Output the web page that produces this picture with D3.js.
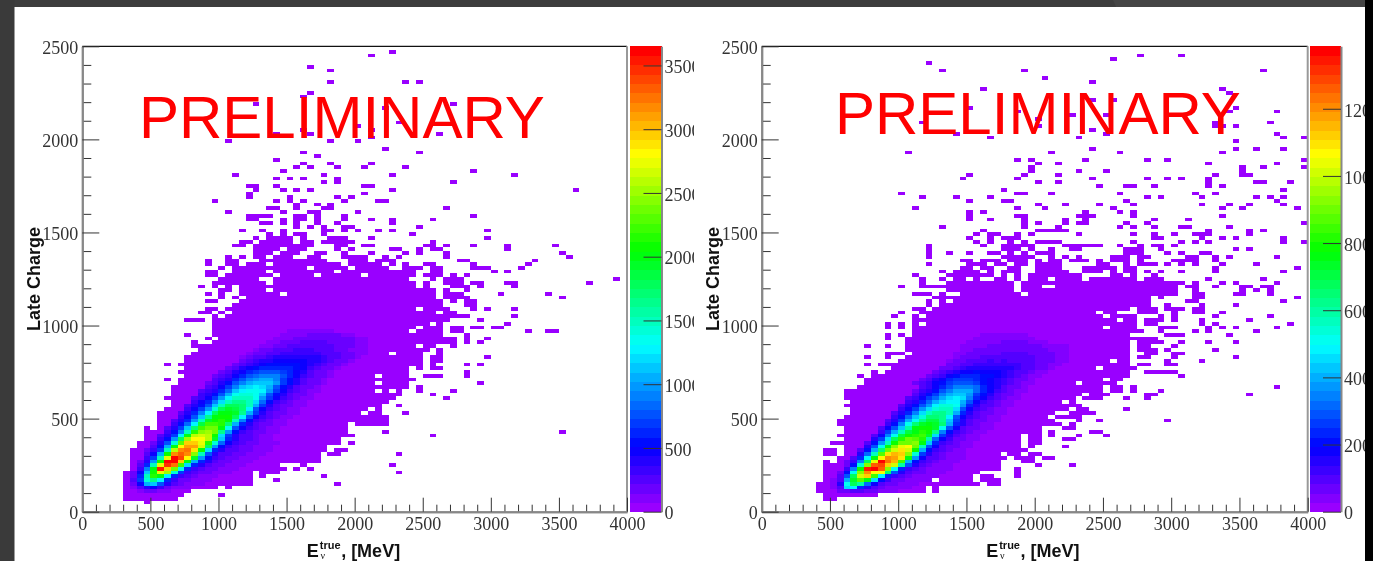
<!DOCTYPE html>
<html>
<head>
<meta charset="utf-8">
<script src="https://cdn.jsdelivr.net/npm/d3@7"></script>
<style>
  html, body { margin: 0; padding: 0; background: #fff; overflow: hidden; }
  svg { display: block; filter: blur(0.4px); }
  .tickText text { font-family: "Liberation Serif", serif; font-size: 18px; fill: #333; }
  .title { font-family: "Liberation Sans", sans-serif; font-weight: bold; font-size: 18px; fill: #111; }
  .prelim { font-family: "Liberation Sans", sans-serif; font-size: 60px; fill: #ff0000; }
</style>
</head>
<body>
<svg id="chart" width="1373" height="561"></svg>
<script>
// bins are 50 MeV wide and 20 charge units tall, rows are [chargeBin, "energy bins"]
var energyBin = 50, chargeBin = 20;
var energyMajor = [0, 500, 1000, 1500, 2000, 2500, 3000, 3500, 4000];
var chargeMajor = [0, 500, 1000, 1500, 2000, 2500];
var leftZMax = 3650, rightZMax = 1386;
var leftZTicks = [0, 500, 1000, 1500, 2000, 2500, 3000, 3500];
var rightZTicks = [0, 200, 400, 600, 800, 1000, 1200];

var leftRows = [
  [2, "9"], [3, "6-13"], [4, "6-14 20"], [5, "6-15"], [6, "6-19 21"], [7, "6-24 37"], [8, "6-24 28"],
  [9, "6-24 26 35"], [10, "6-24 26-28 46"], [11, "7-29 31 33"], [12, "7-28 32 45"], [13, "7-34"], [14, "7-34"],
  [15, "7-34 36-37 46"], [16, "7-35 37-38"], [17, "8-35"], [18, "8-37 39"], [19, "9-37"], [20, "9-39 51"],
  [21, "9-38 44 70"], [22, "9 11-38"], [23, "11-38 40-44"], [24, "11-44"], [25, "11-44"], [26, "11-40 42-43 47"],
  [27, "12-41 43"], [28, "13-43 46"], [29, "13-44"], [30, "12-45 53"], [31, "13-46 51"],
  [32, "13-42 44 46 49 54"], [33, "13-47 49"], [34, "14-42 44-47 58"], [35, "12 14-48"],
  [36, "15-42 44-47 50-52 56"], [37, "14-47 56"], [38, "15-47 49 51-52"], [39, "12 14-49 51 56 58"],
  [40, "15-49 51-52"], [41, "15-49 51-52 59"], [42, "16-44 46-49 52"], [43, "17-50 52"], [44, "16-48 50-51 54"],
  [45, "16 19-52 53-54 56 58"], [46, "18 20-52 53-54 56 59"], [47, "15 19-52 56"],
  [48, "19-47 49-52 54-55 65 68-69"], [49, "19-48 50-52 54-55 57-58 60-61"], [50, "19-50 52 62"],
  [51, "15-17 19-53 58"], [52, "19 21-54 55-56 63"], [53, "17-18 20 22-51 53-54"],
  [54, "18-19 21-48 50-53 57 59 63"], [55, "22-52 56-57"], [56, "18-19 23-51 52 54 56-57"],
  [57, "20 22 24-51 53-56 70"], [58, "18 20 23-28 30-51 53-55 61 68"], [59, "20-21 23-26 28-51 53 56"],
  [60, "17 19 21 23-48 50 54-56 58 63"], [61, "19-26 28-48 50 53-55 57-58 62-63 74"],
  [62, "20-25 28-46 47 51 53-55 78"], [63, "18-19 21-27 29-33 35-40 42-48 50-52 54 56"],
  [64, "18-19 22-26 28-36 38-48 51-52 60 62"], [65, "20 22-32 34-38 40-44 47-49 51-52 57-59 64"],
  [66, "18 21-22 24-26 28-37 39-43 45 47 50-51 57 65"], [67, "18 21-22 26 27-32 33-35 39-41 43-45 55-56 66"],
  [68, "21 23 25-26 28-30 33-34 38-41 44 46 53 71"], [69, "25-27 29-31 34-35 38 42 47 49 53 70"],
  [70, "25-28 30-31 32 37 39 45-46 49 51-52 62"], [71, "22-23 25-28 29-32 33 37-38 41-42 50-51 53 57 62 69"],
  [72, "23-24 26-28 29-30 32-33 35-39 51"], [73, "25 27-30 32 36-38 42 59"], [74, "27 29 31-32 35 48"],
  [75, "23 26 29 35-36 38 40 43 45 59"], [76, "31 33 35 38-39 49"], [77, "26-27 29 31 34 37 45"],
  [78, "24-25 29 31-32 34 38 42 45 51"], [79, "24-27 31-32 34 38 57"], [80, "21 29 33-34 40"],
  [81, "27-28 31 35-36 53"], [82, "31 34 36"], [83, "19 28 30 32 38 43-44"], [84, "24 30 37 39"], [85, "24 41"],
  [86, "25 29 31 33 45 72"], [87, "24-25 28 41-42"], [88, "35 37 54"], [89, "28 30 32 37"], [90, "22 35 45 63"],
  [91, "29 57"], [92, "31 33 37 41 47"], [93, "32 36 42"], [94, "28"], [95, "34"], [96, "32 49"], [97, "44"],
  [99, "21 36 40"], [100, "42"], [101, "28 33 52"], [102, "32 42"], [103, "40"], [104, "46"], [108, "44"],
  [109, "25 54"], [111, "32"], [112, "33"], [115, "36 47 49"], [118, "36"], [119, "33"], [122, "42"], [123, "45"]
];

// colour band: [chargeBin, first energy bin, levels...]
var leftCore = [
  [5, 8, 1, 2, 2, 1, 1],
  [6, 7, 1, 3, 5, 6, 4, 2, 1, 1, 1],
  [7, 7, 2, 6, 14, 15, 10, 5, 3, 2, 1, 1, 1],
  [8, 7, 3, 9, 19, 22, 17, 8, 4, 2, 2, 1, 1, 1],
  [9, 7, 2, 8, 20, 29, 27, 17, 8, 4, 3, 2, 1, 1, 1],
  [10, 7, 2, 6, 15, 28, 37, 34, 19, 9, 4, 3, 2, 2, 1, 1, 1],
  [11, 8, 4, 12, 27, 48, 40, 32, 18, 8, 4, 3, 2, 2, 1, 1, 1],
  [12, 8, 3, 8, 20, 37, 47, 44, 30, 16, 8, 5, 3, 2, 2, 1, 1, 1],
  [13, 8, 2, 5, 13, 28, 49, 49, 40, 27, 14, 8, 5, 3, 2, 2, 1, 1, 1],
  [14, 9, 4, 9, 20, 37, 49, 46, 38, 26, 13, 7, 4, 3, 2, 2, 1, 1, 1],
  [15, 9, 3, 6, 14, 28, 43, 45, 43, 33, 20, 10, 5, 3, 3, 2, 2, 1, 1, 1],
  [16, 9, 2, 4, 9, 20, 35, 43, 44, 39, 28, 16, 8, 5, 3, 3, 2, 2, 1, 1, 1],
  [17, 10, 3, 7, 14, 27, 38, 42, 42, 36, 24, 13, 7, 4, 3, 2, 2, 1, 1, 1],
  [18, 10, 2, 5, 10, 19, 31, 40, 40, 37, 29, 19, 11, 6, 4, 3, 2, 2, 1, 1, 1],
  [19, 11, 4, 7, 13, 24, 34, 38, 38, 35, 26, 15, 8, 5, 3, 3, 2, 1, 1],
  [20, 11, 3, 5, 9, 17, 27, 35, 36, 35, 28, 16, 9, 5, 3, 3, 2, 1, 1],
  [21, 12, 4, 7, 12, 20, 29, 33, 34, 32, 22, 13, 7, 4, 3, 2, 2, 1, 1],
  [22, 12, 3, 5, 9, 15, 23, 30, 32, 32, 27, 18, 10, 6, 4, 3, 2, 1, 1],
  [23, 13, 4, 7, 11, 17, 25, 30, 30, 29, 23, 14, 8, 5, 3, 2, 2, 1, 1],
  [24, 13, 3, 5, 8, 13, 20, 26, 28, 29, 27, 20, 12, 7, 4, 3, 2, 1, 1],
  [25, 14, 4, 6, 10, 15, 22, 27, 28, 28, 24, 17, 10, 6, 4, 3, 2, 1, 1],
  [26, 14, 3, 5, 8, 12, 17, 24, 27, 27, 26, 22, 14, 9, 5, 3, 2, 2, 1, 1],
  [27, 15, 4, 6, 9, 13, 19, 24, 26, 25, 23, 17, 10, 6, 4, 3, 2, 1, 1],
  [28, 15, 3, 5, 7, 10, 15, 20, 24, 24, 23, 20, 14, 9, 5, 3, 2, 2, 1, 1],
  [29, 16, 4, 6, 8, 12, 16, 20, 22, 22, 20, 16, 11, 7, 4, 3, 2, 1, 1],
  [30, 16, 3, 4, 6, 9, 13, 17, 20, 20, 20, 18, 13, 9, 6, 4, 3, 2, 1, 1],
  [31, 17, 4, 5, 7, 10, 14, 18, 19, 19, 18, 15, 10, 7, 5, 3, 2, 2, 1],
  [32, 17, 3, 4, 5, 8, 11, 15, 17, 18, 18, 17, 13, 9, 6, 4, 3, 2, 1, 1],
  [33, 18, 3, 4, 6, 9, 12, 15, 16, 17, 16, 14, 10, 7, 5, 3, 2, 2, 1],
  [34, 18, 2, 3, 5, 7, 10, 12, 14, 15, 15, 15, 13, 9, 7, 5, 3, 2, 2, 1],
  [35, 19, 3, 4, 5, 8, 10, 12, 13, 14, 14, 12, 9, 7, 5, 3, 2, 2, 1],
  [36, 19, 2, 3, 4, 6, 8, 10, 11, 12, 12, 12, 10, 8, 6, 4, 3, 2, 2, 1],
  [37, 20, 2, 3, 5, 6, 8, 9, 10, 10, 10, 9, 8, 6, 5, 3, 2, 2, 1],
  [38, 21, 2, 3, 5, 6, 7, 8, 8, 8, 8, 8, 7, 6, 4, 3, 2, 2, 1],
  [39, 22, 2, 3, 4, 5, 6, 7, 7, 7, 7, 7, 6, 5, 4, 3, 2, 2, 1],
  [40, 23, 2, 3, 4, 5, 5, 6, 6, 6, 6, 6, 5, 5, 4, 3, 2, 2, 1],
  [41, 23, 1, 2, 3, 3, 4, 5, 5, 5, 5, 5, 5, 5, 4, 3, 3, 2, 2, 1],
  [42, 24, 1, 2, 2, 3, 3, 4, 4, 4, 4, 4, 4, 3, 3, 3, 2, 2, 1, 1],
  [43, 25, 1, 2, 2, 3, 3, 3, 4, 4, 4, 3, 3, 3, 2, 2, 1, 1, 1],
  [44, 26, 1, 1, 2, 2, 3, 3, 3, 3, 3, 3, 3, 2, 2, 2, 1, 1],
  [45, 27, 1, 1, 2, 2, 2, 3, 3, 3, 3, 2, 2, 2, 2, 1, 1],
  [46, 28, 1, 1, 1, 2, 2, 2, 2, 2, 2, 2, 2, 2, 1, 1],
  [47, 29, 1, 1, 1, 1, 2, 2, 2, 2, 2, 1, 1],
  [48, 30, 1, 1, 1, 1, 1, 1, 1]
];

var rightRows = [
  [3, "9-10"], [4, "9-16"], [5, "8-23 25"], [6, "8-23 25"], [7, "8-31 33-34"], [8, "9-24 26-30 32-34"],
  [9, "9-30 32-33 37"], [10, "9-31 37"], [11, "9-34 37"], [12, "9-34 40 45"], [13, "9 11-34 38-39"],
  [14, "11-35 37-39 41-42"], [15, "9-10 12-34 36-37 39-40"], [16, "9-10 12-38"], [17, "12-37 39 44"],
  [18, "10-37 39-40"], [19, "12-37 39-40 44-45"], [20, "11-37 39-40 42 46 50"], [21, "12-40 42 48-49"],
  [22, "12-40 44-45"], [23, "11-43 45"], [24, "11-42 46 49 59"], [25, "12-41 43-46"], [26, "13-42 45-48"],
  [27, "13-44 46-47 53"], [28, "12-46"], [29, "13-43 45"], [30, "12-45 47-49 53 56"], [31, "12-46 48-50 56-57 71"],
  [32, "12-49 51-52 54 58"], [33, "14-49 51-52 54 75"], [34, "15-45 47-51"], [35, "15-49 51-52"],
  [36, "14 16-53 61"], [37, "16 18-53 56-60"], [38, "19-48 50-54"], [39, "15 17-53 55-56 59-60"],
  [40, "20-45 46-50 52-53 59 64"], [41, "15 18 21-53 55-56 60 69"], [42, "18-20 22-53 56-57 60-61"],
  [43, "21-53 55-57 59 66"], [44, "15 18 21-51 52-53 55-56 60"], [45, "21-47 48-53 55-58 61 65 69"],
  [46, "18 21-53 54-57"], [47, "18 20 22-53 59-61 68"], [48, "22-55 58 63 65 72"],
  [49, "18 20 22-49 51-54 58-60 65 67 69 75"], [50, "18 20 22 24-54 56-57 64 66 77"],
  [51, "22-51 53-54 56-58 60 64 71"], [52, "19 22 24-49 51-54 58 60 66 74"],
  [53, "20 23-48 50-51 55-57 60 63-64 67"], [54, "22-23 25-53 55-57 59-61 63-64"],
  [55, "24 26-51 52-53 54-56 59 64 69"], [56, "24 26 28-56 62-63 76"], [57, "25-56 58 63-64 78"],
  [58, "22-24 26 29-37 39-60 63-64 69-70 74"], [59, "27-36 38-60 63 70 72 74"],
  [60, "20 23-36 38-40 43-60 62-63 66 70-71 73-74"], [61, "23 27-36 38-61 63 67 69 75"],
  [62, "23 26 28-29 31 34-35 37 39-41 43-46 48-54 56-58 65 73"], [63, "22 27-33 35 37 39-46 51-52 54 57"],
  [64, "26 28-31 33 35-37 40-44 47-49 51 53-54 56 58 61 66 76"], [65, "29-30 32-33 36-37 40-43 47-51 53-54 66 78"],
  [66, "24 30-32 34-35 37-38 40-43 49-50 53 55-57 59 61 63 67 72"],
  [67, "29-30 32-34 36-38 40 42-43 45-47 49 51-53 55 60-63 66"],
  [68, "24 35-39 42 44 46 51-53 55-56 62-63 66 68 75"], [69, "24 27 30 33-34 36 38 40-42 53-55 59 61 64-65"],
  [70, "24 35-37 39 42 45-46 53-55 58 69 71"], [71, "24 32 35-39 44-49 52 55 57-58 60"],
  [72, "31 33 36 38 40-43 54 61 63 65 76 79"], [73, "30 33 35-37 57-58 64 67 69 76"],
  [74, "31 33-34 37 39 46 54 57 60 63-65 71"], [75, "32 40-44 65 71 73"], [76, "26 38 43 52 54 57 61-62 68"],
  [77, "38 40 44 46-47 53 56 79"], [78, "30 33 38 44 47 57 62"], [79, "30 37-38 46-48 54 67"],
  [80, "30 32 47 52 54"], [81, "22 37 41 51 67 70 78"], [82, "40 44 49 54 64 68 71 76"], [83, "30 35-36 53 75"],
  [84, "23 28 33 56 58 64 72 74 76"], [85, "20 37-38 42 52 63 66"], [86, "35 76"], [87, "49 53-54 57 65 67"],
  [88, "40 43 65 72-73 77"], [89, "29 37 48 56 59 61 65"], [90, "30 38 43 66 70-71"], [91, "39 46 50 70"],
  [92, "39 70 73 79"], [93, "40 43 65 75"], [94, "37 39 47 56 59 79"], [96, "21 42 52 67"], [97, "48 69 72 76"],
  [99, "69"], [100, "33 46 76 79"], [101, "28 50 75"], [102, "48"], [103, "40 66-67 69"], [104, "23 66 74"],
  [105, "40"], [106, "45 50"], [107, "37 68 75"], [108, "30 69"], [110, "48 51"], [112, "68"], [113, "32 67"],
  [115, "48"], [116, "41"], [118, "26 38 73"], [120, "24"], [121, "51"], [122, "55 61"]
];

var rightCore = [
  [5, 11, 2, 2, 3, 3, 2, 2, 1, 1, 1],
  [6, 10, 1, 3, 16, 17, 8, 5, 3, 2, 1, 1, 1, 1],
  [7, 10, 1, 5, 18, 24, 21, 11, 6, 3, 2, 2, 1, 1, 1],
  [8, 10, 1, 3, 14, 26, 31, 27, 16, 7, 4, 2, 2, 1, 1, 1, 1],
  [9, 11, 3, 10, 24, 36, 40, 30, 17, 8, 4, 3, 2, 1, 1, 1, 1],
  [10, 11, 2, 7, 18, 33, 43, 38, 38, 23, 10, 5, 3, 2, 2, 1, 1, 1],
  [11, 12, 4, 12, 28, 48, 49, 45, 33, 18, 8, 4, 3, 2, 1, 1, 1, 1],
  [12, 12, 2, 7, 19, 33, 45, 46, 40, 36, 21, 10, 5, 3, 2, 1, 1, 1],
  [13, 12, 2, 4, 12, 24, 37, 49, 44, 41, 30, 14, 7, 4, 3, 2, 1, 1, 1],
  [14, 13, 3, 8, 17, 27, 38, 43, 42, 39, 27, 13, 6, 3, 3, 2, 1, 1, 1],
  [15, 14, 5, 11, 20, 31, 39, 41, 40, 33, 19, 9, 5, 3, 2, 1, 1, 1],
  [16, 14, 3, 7, 14, 23, 32, 36, 39, 36, 28, 14, 7, 4, 3, 2, 1, 1],
  [17, 15, 5, 10, 18, 27, 33, 37, 38, 32, 20, 10, 6, 3, 2, 2, 1, 1],
  [18, 15, 3, 7, 13, 20, 28, 32, 32, 33, 27, 15, 8, 4, 3, 2, 1, 1],
  [19, 16, 5, 9, 16, 24, 29, 32, 31, 29, 21, 11, 6, 4, 2, 2, 1, 1],
  [20, 16, 3, 6, 12, 18, 25, 28, 29, 30, 26, 16, 9, 5, 3, 2, 1, 1],
  [21, 17, 4, 9, 14, 20, 25, 27, 29, 28, 22, 12, 7, 4, 3, 2, 1, 1],
  [22, 17, 3, 6, 10, 15, 21, 27, 28, 28, 26, 18, 10, 6, 3, 2, 2, 1, 1],
  [23, 18, 4, 7, 12, 18, 23, 26, 27, 26, 23, 14, 8, 5, 3, 2, 1, 1],
  [24, 18, 3, 5, 9, 14, 18, 22, 25, 25, 22, 15, 9, 5, 3, 2, 2, 1, 1],
  [25, 19, 4, 7, 11, 15, 19, 23, 23, 22, 17, 10, 6, 4, 3, 2, 1, 1],
  [26, 19, 3, 5, 8, 12, 16, 20, 22, 22, 20, 14, 8, 5, 3, 2, 2, 1, 1],
  [27, 20, 4, 6, 9, 13, 16, 19, 20, 20, 16, 10, 6, 4, 3, 2, 1, 1],
  [28, 20, 3, 5, 7, 10, 13, 17, 19, 19, 18, 13, 8, 5, 3, 3, 2, 1, 1],
  [29, 21, 4, 5, 8, 11, 14, 16, 17, 17, 14, 10, 6, 4, 3, 2, 1, 1],
  [30, 21, 3, 4, 6, 9, 11, 14, 16, 17, 16, 12, 8, 6, 4, 3, 2, 1, 1],
  [31, 22, 3, 5, 7, 9, 12, 14, 15, 15, 13, 9, 7, 5, 3, 2, 2, 1],
  [32, 22, 2, 4, 5, 7, 10, 12, 14, 14, 14, 11, 8, 6, 4, 3, 2, 1, 1],
  [33, 23, 3, 4, 6, 8, 10, 12, 12, 12, 11, 8, 6, 5, 3, 2, 2, 1],
  [34, 22, 2, 3, 4, 6, 7, 9, 10, 10, 10, 9, 7, 6, 5, 4, 3, 2, 1, 1],
  [35, 23, 2, 3, 5, 6, 8, 9, 9, 9, 8, 7, 6, 5, 4, 3, 2, 2, 1],
  [36, 24, 2, 3, 4, 6, 7, 8, 8, 8, 7, 7, 6, 5, 4, 3, 2, 1, 1],
  [37, 25, 2, 3, 4, 5, 6, 6, 7, 6, 6, 6, 5, 4, 3, 3, 2, 1, 1],
  [38, 26, 2, 2, 3, 4, 5, 5, 5, 5, 5, 5, 5, 4, 3, 3, 2, 2, 1],
  [39, 27, 2, 2, 3, 3, 4, 4, 4, 4, 4, 4, 4, 3, 3, 2, 2, 1, 1],
  [40, 27, 1, 2, 2, 3, 3, 3, 4, 3, 4, 3, 3, 3, 3, 2, 2, 2, 1, 1],
  [41, 28, 1, 2, 2, 2, 3, 3, 3, 3, 3, 3, 3, 3, 2, 2, 2, 1, 1],
  [42, 28, 1, 1, 2, 2, 2, 2, 2, 3, 3, 3, 3, 2, 2, 2, 2, 1, 1],
  [43, 29, 1, 1, 2, 2, 2, 2, 2, 2, 2, 2, 2, 2, 2, 1, 1, 1],
  [44, 29, 1, 1, 1, 1, 2, 2, 2, 2, 2, 2, 2, 2, 1, 1, 1, 1],
  [45, 30, 1, 1, 1, 1, 1, 2, 2, 2, 2, 1, 1, 1],
  [46, 31, 1, 1, 1, 1, 1, 1, 1, 1, 1],
  [47, 32, 1, 1, 1, 1, 1, 1, 1]
];

// ROOT rainbow palette, 50 steps
var paletteScale = d3.scaleLinear()
  .domain([0, 0.133, 0.355, 0.563, 0.773, 1])
  .range(["#9900ff", "#0000ff", "#00ffff", "#00ff00", "#ffff00", "#ff0000"]);
var palette = d3.range(50).map(function(k) { return paletteScale(k / 49); });

var svg = d3.select("#chart");
var plainNumber = d3.format("d");

function rowsToCells(rows) {
  var cells = [];
  rows.forEach(function(row) {
    row[1].split(" ").forEach(function(part) {
      var ends = part.split("-").map(Number);
      d3.range(ends[0], (ends.length > 1 ? ends[1] : ends[0]) + 1).forEach(function(i) {
        cells.push({ i: i, j: row[0], level: 0 });
      });
    });
  });
  return cells;
}

function coreToCells(core) {
  var cells = [];
  core.forEach(function(row) {
    row.slice(2).forEach(function(level, k) {
      cells.push({ i: row[1] + k, j: row[0], level: level });
    });
  });
  return cells;
}

function drawPanel(p) {
  var xScale = d3.scaleLinear().domain([0, 4000]).range([p.left, p.right]);
  var yScale = d3.scaleLinear().domain([0, 2500]).range([511.7, 46.3]);
  var zScale = d3.scaleLinear().domain([0, p.zMax]).range([511.7, 46.3]);
  var colour = d3.scaleQuantize().domain([0, p.zMax]).range(palette);

  var g = svg.append("g");

  var cells = rowsToCells(p.rows).concat(coreToCells(p.core));
  g.append("g")
    .attr("shape-rendering", "crispEdges")
    .selectAll("rect")
    .data(cells)
    .enter()
    .append("rect")
    .attr("x", function(d) { return xScale(d.i * energyBin); })
    .attr("y", function(d) { return yScale((d.j + 1) * chargeBin); })
    .attr("width", xScale(energyBin) - xScale(0))
    .attr("height", yScale(0) - yScale(chargeBin))
    .attr("fill", function(d) { return colour((d.level + 0.5) * p.zMax / 50); });

  // frame
  g.append("line").attr("x1", p.left).attr("x2", p.right).attr("y1", 46.3).attr("y2", 46.3)
    .attr("stroke", "#111").attr("stroke-width", 1.2);
  g.append("line").attr("x1", p.right).attr("x2", p.right).attr("y1", 46.3).attr("y2", 511.7)
    .attr("stroke", "#999").attr("stroke-width", 2);

  var xMinor = d3.range(0, 4001, 100).filter(function(v) { return v % 500 !== 0; });
  var yMinor = d3.range(0, 2501, 100).filter(function(v) { return v % 500 !== 0; });

  g.append("g").attr("transform", "translate(0,511.7)")
    .call(d3.axisBottom(xScale).tickValues(xMinor).tickSizeInner(-7).tickSizeOuter(0).tickFormat(""))
    .call(styleAxis);
  g.append("g").attr("class", "tickText").attr("transform", "translate(0,511.7)")
    .call(d3.axisBottom(xScale).tickValues(energyMajor).tickSizeInner(-14).tickSizeOuter(0).tickPadding(5.5).tickFormat(plainNumber))
    .call(styleAxis);
  g.append("g").attr("transform", "translate(" + p.left + ",0)")
    .call(d3.axisLeft(yScale).tickValues(yMinor).tickSizeInner(-9).tickSizeOuter(0).tickFormat(""))
    .call(styleAxis);
  g.append("g").attr("class", "tickText").attr("transform", "translate(" + p.left + ",0)")
    .call(d3.axisLeft(yScale).tickValues(chargeMajor).tickSizeInner(-17).tickSizeOuter(0).tickPadding(4).tickFormat(plainNumber))
    .call(styleAxis)
    .selectAll("text").attr("y", 1.5);

  // palette
  var band = (zScale(0) - zScale(p.zMax)) / palette.length;
  g.append("g")
    .attr("shape-rendering", "crispEdges")
    .selectAll("rect")
    .data(palette)
    .enter()
    .append("rect")
    .attr("x", p.barLeft)
    .attr("y", function(d, k) { return zScale((k + 1) * p.zMax / palette.length); })
    .attr("width", p.barRight - p.barLeft)
    .attr("height", band + 0.5)
    .attr("fill", function(d) { return d; });

  var clipId = "clip" + p.name;
  svg.append("clipPath").attr("id", clipId).append("rect")
    .attr("x", p.barLeft).attr("y", 30).attr("width", p.barClip - p.barLeft).attr("height", 500);

  g.append("g").attr("class", "tickText").attr("clip-path", "url(#" + clipId + ")")
    .append("g").attr("transform", "translate(" + p.barRight + ",0)")
    .call(d3.axisRight(zScale).tickValues(p.zTicks).tickSizeInner(-18).tickSizeOuter(0).tickPadding(3).tickFormat(plainNumber))
    .call(styleAxis)
    .selectAll("text").attr("y", 1.5);

  // titles
  g.append("text").attr("class", "title")
    .attr("transform", "translate(" + (p.left - 42.5) + ",331) rotate(-90)")
    .text("Late Charge");

  var xt = g.append("text").attr("class", "title").attr("x", p.left + 224.5).attr("y", 557);
  xt.append("tspan").text("E");
  xt.append("tspan").attr("font-size", 11).attr("dx", 1).attr("dy", -8).text("true");
  xt.append("tspan").attr("dx", -20).attr("dy", 10).attr("font-size", 10)
    .attr("font-family", "Liberation Serif").attr("font-weight", "normal").text("\u03bd");
  xt.append("tspan").attr("dx", 16).attr("dy", -2).text(", [MeV]");

  g.append("text").attr("class", "prelim").attr("x", p.prelimX).attr("y", p.prelimY).text("PRELIMINARY");
}

function styleAxis(sel) {
  sel.select(".domain").attr("stroke", "#888").attr("stroke-width", 2);
  sel.selectAll(".tick line").attr("stroke", "#333").attr("stroke-width", 1);
}

svg.append("rect").attr("width", 1373).attr("height", 561).attr("fill", "#fff");

drawPanel({
  name: "Left", rows: leftRows, core: leftCore, zMax: leftZMax, zTicks: leftZTicks,
  left: 82.3, right: 627, barLeft: 630, barRight: 661.5, barClip: 694, prelimX: 139, prelimY: 138
});
drawPanel({
  name: "Right", rows: rightRows, core: rightCore, zMax: rightZMax, zTicks: rightZTicks,
  left: 761.7, right: 1307.7, barLeft: 1310, barRight: 1341, barClip: 1365, prelimX: 835, prelimY: 134
});

// screenshot surround
svg.append("rect").attr("x", 0).attr("y", 0).attr("width", 1365).attr("height", 7).attr("fill", "#3d3d3d");
svg.append("path").attr("d", "M1113,0L1365,0L1365,7L1116,7Z").attr("fill", "#454545");
svg.append("rect").attr("x", 0).attr("y", 0).attr("width", 14.5).attr("height", 561).attr("fill", "#3a3a3a");
svg.append("rect").attr("x", 1365).attr("y", 0).attr("width", 8).attr("height", 561).attr("fill", "#000");
</script>
</body>
</html>
